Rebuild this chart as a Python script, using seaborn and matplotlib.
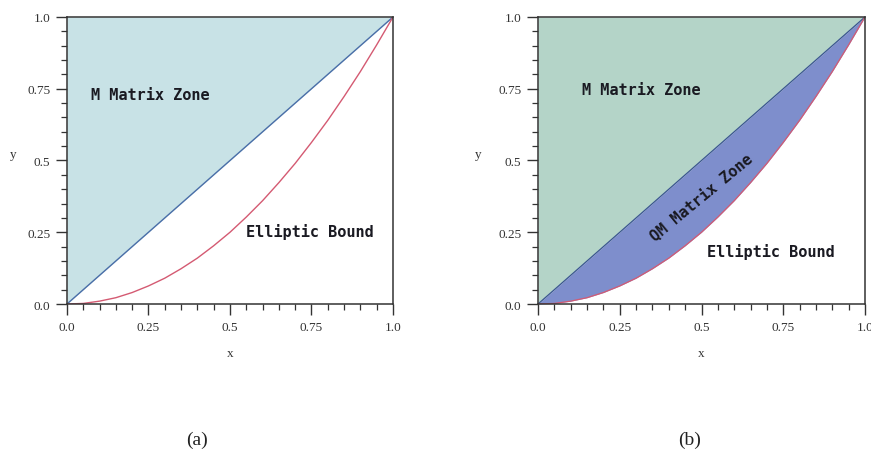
import matplotlib
matplotlib.use("Agg")
import matplotlib.pyplot as plt
from matplotlib.ticker import MultipleLocator
import seaborn as sns

# values
x_vals = [0.0, 0.05, 0.1, 0.15, 0.2, 0.25, 0.3, 0.35, 0.4, 0.45, 0.5,
          0.55, 0.6, 0.65, 0.7, 0.75, 0.8, 0.85, 0.9, 0.95, 1.0]
diag_y = [0.0, 0.05, 0.1, 0.15, 0.2, 0.25, 0.3, 0.35, 0.4, 0.45, 0.5,
          0.55, 0.6, 0.65, 0.7, 0.75, 0.8, 0.85, 0.9, 0.95, 1.0]
bound_y = [0.0, 0.002, 0.01, 0.022, 0.04, 0.063, 0.09, 0.123, 0.16, 0.203, 0.25,
           0.303, 0.36, 0.423, 0.49, 0.563, 0.64, 0.723, 0.81, 0.903, 1.0]
top_y = [1.0] * len(x_vals)

major_ticks = [0.0, 0.25, 0.5, 0.75, 1.0]
tick_labels = ["0.0", "0.25", "0.5", "0.75", "1.0"]

sns.set_theme(style="ticks")
plt.rcParams["font.family"] = ["Liberation Serif", "DejaVu Serif"]

fig = plt.figure(figsize=(8.71, 4.52), dpi=100)
ax_a = fig.add_axes([0.0769, 0.3252, 0.3743, 0.635])
ax_b = fig.add_axes([0.6177, 0.3252, 0.3754, 0.635])

mono = dict(family="DejaVu Sans Mono", fontweight="bold", fontsize=11, color="#1a1a22")


def style_axes(ax, ylab_x):
    ax.set_xlim(0, 1)
    ax.set_ylim(0, 1)
    ax.set_xticks(major_ticks)
    ax.set_xticklabels(tick_labels)
    ax.set_yticks(major_ticks)
    ax.set_yticklabels(tick_labels)
    ax.xaxis.set_minor_locator(MultipleLocator(0.05))
    ax.yaxis.set_minor_locator(MultipleLocator(0.05))
    ax.tick_params(which="major", length=8, width=1.0, color="#333333",
                   labelsize=9.5, labelcolor="#333333", pad=4)
    ax.tick_params(which="minor", length=4, width=0.9, color="#333333")
    for sp in ax.spines.values():
        sp.set_color("#333333")
        sp.set_linewidth(1.1)
    ax.set_xlabel("x", fontsize=9.5, color="#333333")
    ax.set_ylabel("y", fontsize=9.5, color="#333333", rotation=0)
    ax.xaxis.set_label_coords(0.5, -0.15)
    ax.yaxis.set_label_coords(ylab_x, 0.5)


# (a)
ax_a.fill_between(x_vals, diag_y, top_y, color="#c8e2e6", linewidth=0)
sns.lineplot(x=x_vals, y=diag_y, ax=ax_a, color="#4a6ea8", linewidth=1.0, sort=False)
sns.lineplot(x=x_vals, y=bound_y, ax=ax_a, color="#d45a72", linewidth=1.0, sort=False)
ax_a.text(0.074, 0.73, "M Matrix Zone", va="center", ha="left", **mono)
ax_a.text(0.55, 0.254, "Elliptic Bound", va="center", ha="left", **mono)
style_axes(ax_a, -0.166)

# (b)
ax_b.fill_between(x_vals, diag_y, top_y, color="#b4d4c8", linewidth=0)
ax_b.fill_between(x_vals, bound_y, diag_y, color="#7e8ecc", linewidth=0)
sns.lineplot(x=x_vals, y=diag_y, ax=ax_b, color="#3a5590", linewidth=0.9, sort=False)
sns.lineplot(x=x_vals, y=bound_y, ax=ax_b, color="#d45a72", linewidth=0.9, sort=False)
ax_b.text(0.135, 0.749, "M Matrix Zone", va="center", ha="left", **mono)
ax_b.text(0.517, 0.185, "Elliptic Bound", va="center", ha="left", **mono)
ax_b.text(0.498, 0.376, "QM Matrix Zone", va="center", ha="center",
          rotation=39.5, rotation_mode="anchor", **mono)
style_axes(ax_b, -0.183)

fig.text(197 / 871, 1 - 440 / 452, "(a)", ha="center", va="center", fontsize=14, color="#222222")
fig.text(690 / 871, 1 - 440 / 452, "(b)", ha="center", va="center", fontsize=14, color="#222222")

fig.savefig("out.png", dpi=100, facecolor="white")
